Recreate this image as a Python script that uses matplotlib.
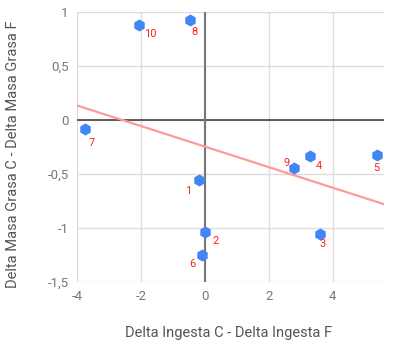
import numpy as np
import matplotlib
matplotlib.use("Agg")
import matplotlib.pyplot as plt
from matplotlib.ticker import FuncFormatter

plt.rcParams['font.family'] = ['Roboto', 'DejaVu Sans']

labels = ["1", "2", "3", "4", "5", "6", "7", "8", "9", "10"]
delta_ingesta = [-0.19, 0.01, 3.59, 3.28, 5.37, -0.08, -3.76, -0.48, 2.80, -2.07]
delta_masa = [-0.56, -1.04, -1.06, -0.33, -0.32, -1.25, -0.08, 0.93, -0.44, 0.88]
label_offsets = {"1": (-11, -11), "2": (10, -9), "3": (3, -10), "4": (9, -10),
                 "5": (0, -13), "6": (-10, -9), "7": (7, -14), "8": (5, -12),
                 "9": (-8, 5), "10": (12, -9)}
x_ticks = [-4, -2, 0, 2, 4]
y_ticks = [-1.5, -1, -0.5, 0, 0.5, 1]

fig = plt.figure(figsize=(3.97, 3.48), dpi=100)
ax = fig.add_axes([77/397, 1-282/348, (384-77)/397, (282-12)/348])

ax.set_xlim(-4, 5.6)
ax.set_ylim(-1.5, 1)
ax.set_xticks(x_ticks)
ax.set_yticks(y_ticks)
ax.grid(True, color='#dddddd', linewidth=1)
ax.set_axisbelow(True)
for s in ax.spines.values():
    s.set_visible(False)
ax.axhline(0, color='#444444', linewidth=1.2, zorder=1)
ax.axvline(0, color='#777777', linewidth=1.5, zorder=1)

def fmt(v, pos):
    return ('%g' % v).replace('.', ',')
ax.yaxis.set_major_formatter(FuncFormatter(fmt))
ax.xaxis.set_major_formatter(FuncFormatter(fmt))
ax.tick_params(length=0, labelsize=9.5, labelcolor='#777777', pad=6)

# trendline
x = np.array(delta_ingesta)
y = np.array(delta_masa)
m, b = np.polyfit(x, y, 1)
xl = np.array([-4, 5.6])
ax.plot(xl, m*xl + b, color='#ff9a9a', linewidth=1.6, zorder=2)

ax.scatter(x, y, marker='h', s=75, color='#4285f4', zorder=3, linewidths=0)

for lab, xi, yi in zip(labels, delta_ingesta, delta_masa):
    dx, dy = label_offsets[lab]
    ax.annotate(lab, (xi, yi), xytext=(dx, dy), textcoords='offset pixels',
                ha='center', va='center', color='#ff2020', fontsize=8, zorder=4)

ax.set_xlabel("Delta Ingesta C - Delta Ingesta F", fontsize=10.5, color='#555555')
ax.set_ylabel("Delta Masa Grasa C - Delta Masa Grasa F", fontsize=10.5, color='#555555')
ax.xaxis.set_label_coords(0.5 - (0.0), -51/270)
ax.xaxis.label.set_va('center')
ax.yaxis.set_label_coords(-64/307, 0.5 + 0.0)
ax.yaxis.label.set_va('center')
ax.yaxis.label.set_y(1 - (154 - 12)/270)
ax.xaxis.label.set_x((229 - 77)/307)

fig.savefig("out.png", dpi=100)
